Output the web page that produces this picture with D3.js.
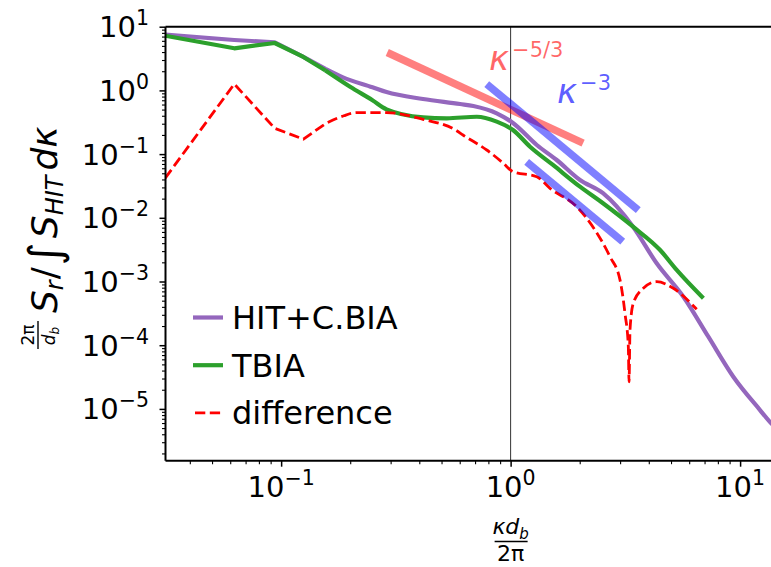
<!DOCTYPE html>
<html><head><meta charset="utf-8">
<script src="https://cdn.jsdelivr.net/npm/d3@7"></script>
<style>body{margin:0;background:#fff} svg{display:block;font-family:"DejaVu Sans",sans-serif}</style>
</head><body><svg id="c" width="771" height="567"></svg>
<script>
// ---- data ----
const kHit = [0.03125,0.0625,0.09375,0.125,0.156,0.186,0.25,0.288,0.415,0.602,0.688,0.870,1.024,1.30,1.588,2.006,2.527,3.415,4.33,5.66,7.27,9.34,12.21,13.63,15.5];
const hitVals = [7.5,6.18,5.69,3.35,2.17,1.6,1.12,0.94,0.733,0.612,0.569,0.437,0.308,0.139,0.0808,0.0392,0.0243,0.00725,0.00193,5.77e-4,1.36e-4,3.2e-5,9.6e-6,6.0e-6,4.2e-6];
const kTbia = [0.03125,0.0625,0.09375,0.125,0.156,0.1998,0.25,0.288,0.415,0.527,0.712,0.870,1.024,1.215,1.53,2.006,2.527,3.415,4.48,5.29,6.92];
const tbiaVals = [7.22,4.58,5.55,3.35,2.05,1.14,0.70,0.505,0.378,0.365,0.386,0.323,0.239,0.1306,0.0675,0.0308,0.0169,0.00725,0.00312,0.00152,5.45e-4];
const kDiff = [0.03125,0.0625,0.09375,0.125,0.156,0.1875,0.2135,0.288,0.415,0.582,0.620,0.787,0.927,1.024,1.30,1.485,1.941,2.332,2.711,2.997,3.15,3.258,3.281,3.313,3.424,3.787,4.332,5.117,6.47];
const diffVals = [0.042,1.26,0.254,0.172,0.30,0.40,0.447,0.447,0.352,0.233,0.1995,0.116,0.0725,0.0529,0.0442,0.0290,0.0149,0.00643,0.00245,0.00106,3.17e-4,9.5e-5,2.67e-5,1.73e-4,4.55e-4,7.82e-4,9.93e-4,7.82e-4,3.66e-4];
const seriesNames = ["HIT+C.BIA","TBIA","difference"];
// reference power laws: k range and prefactor
const law53K = [0.29,2.07], law53C = 0.5;
const law3aK = [0.787,3.60], law3aC = 0.614;
const law3bK = [1.175,3.08], law3bC = 0.123;
const xMajor = [0.1,1,10], xMajorExp = ["−1","0","1"];
const yMajor = [1e1,1e0,1e-1,1e-2,1e-3,1e-4,1e-5], yMajorExp = ["1","0","−1","−2","−3","−4","−5"];

// ---- chart ----
const svg = d3.select("#c");
const M = {l:165.5, t:26.7, b:460.7, r:800};
const x = d3.scaleLog().domain([0.03134,18.24]).range([M.l,M.r]);
const y = d3.scaleLog().domain([1.538e-6,10]).range([M.b,M.t]);

svg.append("defs").append("clipPath").attr("id","clip")
  .append("rect").attr("x",M.l).attr("y",M.t).attr("width",771-M.l).attr("height",M.b-M.t);

const minors = (lo,hi)=>{const a=[];for(let d=lo;d<=hi;d++)for(let m=2;m<=9;m++)a.push(m*Math.pow(10,d));return a;};
const xMinor = minors(-2,1).filter(v=>v>x.domain()[0]&&v<x.domain()[1]);
const yMinor = minors(-7,0).filter(v=>v>y.domain()[0]&&v<y.domain()[1]);

function styleAxis(g,w){g.select(".domain").remove();g.selectAll("line").attr("stroke","#000").attr("stroke-width",w);}
svg.append("g").attr("transform",`translate(0,${M.b})`)
  .call(d3.axisBottom(x).tickValues(xMajor).tickSize(6).tickFormat(()=>"")).call(g=>styleAxis(g,1.5));
svg.append("g").attr("transform",`translate(0,${M.b})`)
  .call(d3.axisBottom(x).tickValues(xMinor).tickSize(3.5).tickFormat(()=>"")).call(g=>styleAxis(g,1.1));
svg.append("g").attr("transform",`translate(${M.l},0)`)
  .call(d3.axisLeft(y).tickValues(yMajor).tickSize(6).tickFormat(()=>"")).call(g=>styleAxis(g,1.5));
svg.append("g").attr("transform",`translate(${M.l},0)`)
  .call(d3.axisLeft(y).tickValues(yMinor).tickSize(3.5).tickFormat(()=>"")).call(g=>styleAxis(g,1.1));

// tick labels
xMajor.forEach((v,i)=>{
  const t = svg.append("text").attr("x",x(v)).attr("y",497).attr("text-anchor","middle").attr("font-size",29);
  t.append("tspan").text("10");
  t.append("tspan").attr("dy",-12).attr("font-size",20.5).text(xMajorExp[i]);
});
yMajor.forEach((v,i)=>{
  const t = svg.append("text").attr("x",149).attr("y",y(v)+10.5).attr("text-anchor","end").attr("font-size",29);
  t.append("tspan").text("10");
  t.append("tspan").attr("dy",-12).attr("font-size",20.5).text(yMajorExp[i]);
});

// vertical line at k=1
svg.append("line").attr("x1",x(1)).attr("x2",x(1)).attr("y1",M.t).attr("y2",M.b)
  .attr("stroke","#000").attr("stroke-width",1).attr("opacity",0.8);

const plot = svg.append("g").attr("clip-path","url(#clip)");
const lineLin = d3.line().x(d=>x(d[0])).y(d=>y(d[1]));
const lineSmooth = d3.line().x(d=>x(d[0])).y(d=>y(d[1])).curve(d3.curveMonotoneX);
const zip = (a,b)=>a.map((v,i)=>[v,b[i]]);

// coarse low-k samples are joined by straight segments, dense high-k part is smooth
function drawSeries(data, attrs){
  const head = data.slice(0,5), tail = data.slice(4);
  const g = plot.append("g");
  [[head,lineLin],[tail,lineSmooth]].forEach(([d,gen])=>{
    const p = g.append("path").datum(d).attr("d",gen).attr("fill","none").attr("stroke-linejoin","round");
    Object.entries(attrs).forEach(([k,v])=>p.attr(k,v));
  });
}
drawSeries(zip(kHit,hitVals),{stroke:"#9467bd","stroke-width":4.2});
drawSeries(zip(kTbia,tbiaVals),{stroke:"#2ca02c","stroke-width":4.2});
plot.append("path").datum(zip(kDiff,diffVals)).attr("d",d=>{
  return lineLin(d.slice(0,5)) + lineSmooth(d.slice(4)).replace(/^M/,"L");
}).attr("fill","none").attr("stroke","#ff0000").attr("stroke-width",2.8).attr("stroke-dasharray","10.3,4.5");

// power-law guide lines
const law = (K,C,p)=>K.map(k=>[k,C*Math.pow(k,p)]);
plot.append("path").datum(law(law53K,law53C,-5/3)).attr("d",lineLin).attr("fill","none")
  .attr("stroke","#ff0000").attr("stroke-opacity",0.5).attr("stroke-width",7.5);
plot.append("path").datum(law(law3aK,law3aC,-3)).attr("d",lineLin).attr("fill","none")
  .attr("stroke","#0000ff").attr("stroke-opacity",0.5).attr("stroke-width",7.5);
plot.append("path").datum(law(law3bK,law3bC,-3)).attr("d",lineLin).attr("fill","none")
  .attr("stroke","#0000ff").attr("stroke-opacity",0.5).attr("stroke-width",7.5);

// law annotations
const a1 = svg.append("text").attr("x",489).attr("y",70).attr("font-size",34).attr("fill","#ff0000").attr("fill-opacity",0.6);
a1.append("tspan").attr("font-style","italic").text("κ");
a1.append("tspan").attr("dy",-13).attr("dx",3).attr("font-size",21).text("−5/3");
const a2 = svg.append("text").attr("x",557).attr("y",103).attr("font-size",34).attr("fill","#0000ff").attr("fill-opacity",0.65);
a2.append("tspan").attr("font-style","italic").text("κ");
a2.append("tspan").attr("dy",-13).attr("dx",3).attr("font-size",21).text("−3");

// spines
svg.append("line").attr("x1",M.l).attr("x2",M.l).attr("y1",M.t).attr("y2",M.b).attr("stroke","#000").attr("stroke-width",2);
svg.append("line").attr("x1",M.l).attr("x2",771).attr("y1",M.b).attr("y2",M.b).attr("stroke","#000").attr("stroke-width",2);
svg.append("line").attr("x1",M.l).attr("x2",771).attr("y1",M.t).attr("y2",M.t).attr("stroke","#000").attr("stroke-width",2);

// legend
const legStyles = [{c:"#9467bd",w:4.2,d:null},{c:"#2ca02c",w:4.2,d:null},{c:"#ff0000",w:2.8,d:"10.3,4.5"}];
seriesNames.forEach((n,i)=>{
  const cy = 317.5 + i*47.7;
  const l = svg.append("line").attr("x1",193).attr("x2",223).attr("y1",cy).attr("y2",cy)
    .attr("stroke",legStyles[i].c).attr("stroke-width",legStyles[i].w);
  if(legStyles[i].d) l.attr("stroke-dasharray",legStyles[i].d).attr("x1",195);
  svg.append("text").attr("x",232).attr("y",cy+11.5).attr("font-size",32).text(n);
});

// x label
const xl = svg.append("g").attr("transform",`translate(${x(1)},0)`);
xl.append("text").attr("x",0).attr("y",534).attr("text-anchor","middle").attr("font-size",22)
  .call(t=>{t.append("tspan").attr("font-style","italic").text("κd");
            t.append("tspan").attr("font-style","italic").attr("font-size",15).attr("dy",5).text("b");});
xl.append("line").attr("x1",-16).attr("x2",17).attr("y1",541.5).attr("y2",541.5).attr("stroke","#000").attr("stroke-width",1.6);
xl.append("text").attr("x",0).attr("y",561).attr("text-anchor","middle").attr("font-size",22).text("2π");

// y label (rotated)
const yl = svg.append("g").attr("transform","translate(57,349) rotate(-90)");
yl.append("text").attr("x",14).attr("y",-23).attr("text-anchor","middle").attr("font-size",17).text("2π");
yl.append("line").attr("x1",0).attr("x2",28).attr("y1",-19).attr("y2",-19).attr("stroke","#000").attr("stroke-width",1.4);
yl.append("text").attr("x",13).attr("y",-2).attr("text-anchor","middle").attr("font-size",17)
  .call(t=>{t.append("tspan").attr("font-style","italic").text("d");
            t.append("tspan").attr("font-style","italic").attr("font-size",12).attr("dy",4).text("b");});
const ym = yl.append("text").attr("x",36).attr("y",0).attr("font-size",36);
ym.append("tspan").attr("font-style","italic").text("S");
ym.append("tspan").attr("font-style","italic").attr("font-size",24).attr("dy",6).text("r");
ym.append("tspan").attr("dy",-6).attr("dx",1).text("/");
ym.append("tspan").attr("font-size",44).attr("dy",3).attr("dx",2).text("∫");
ym.append("tspan").attr("font-style","italic").attr("dy",-3).attr("dx",4).text("S");
ym.append("tspan").attr("font-style","italic").attr("font-size",24).attr("dy",6).text("HIT");
ym.append("tspan").attr("font-style","italic").attr("dy",-6).attr("dx",5).text("dκ");
</script></body></html>
